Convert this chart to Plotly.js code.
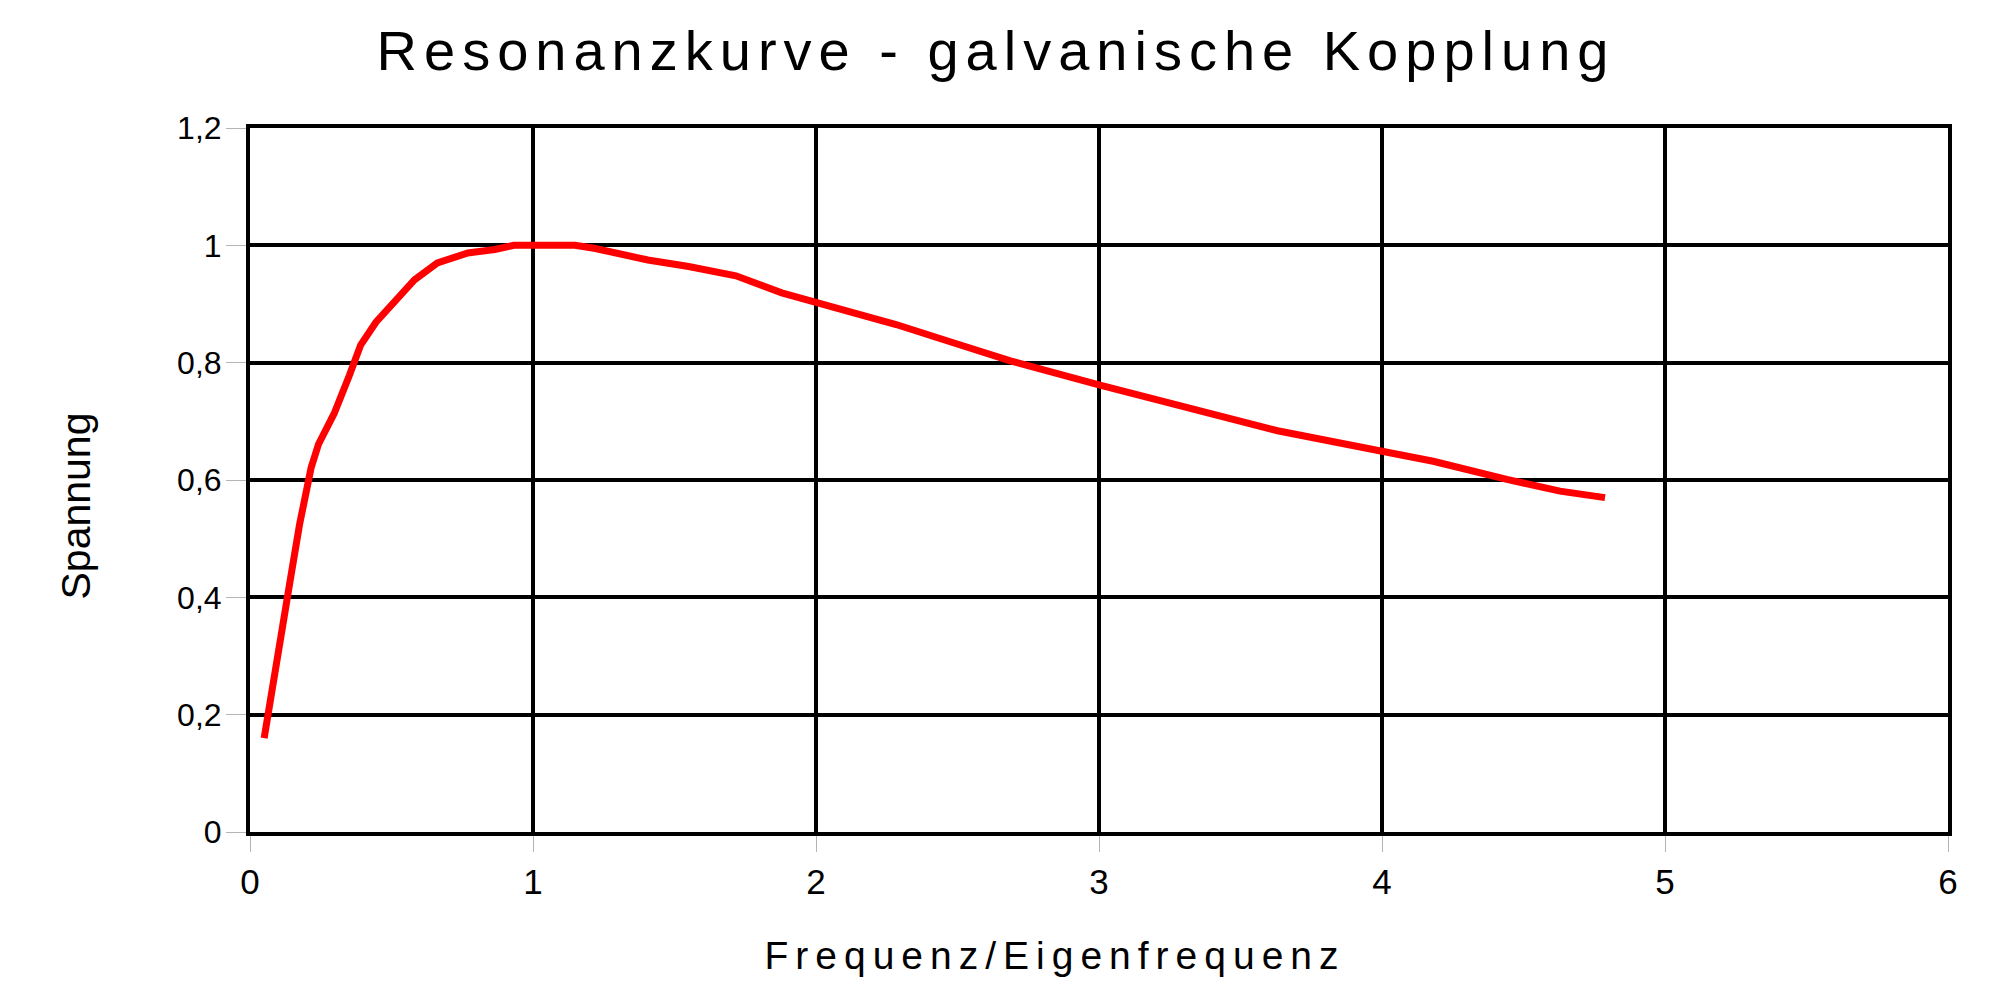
<!DOCTYPE html>
<html>
<head>
<meta charset="utf-8">
<script src="https://cdn.plot.ly/plotly-3.0.1.min.js"></script>
<style>
  html, body { margin: 0; padding: 0; background: #fff; }
  #chart { width: 2000px; height: 1000px; }
  .gtitle { letter-spacing: 7px; }
  .xtitle { letter-spacing: 7px; translate: -44px 0px; }
  .ytitle { translate: -7px 26px; }
  .ytick text { translate: 2px 0px; }
</style>
</head>
<body>
<div id="chart"></div>
<script>
// Frequenz/Eigenfrequenz (x) and Spannung (y)
const frequencyRatio = [0.05, 0.094, 0.141, 0.175, 0.216, 0.242, 0.297, 0.351, 0.391, 0.445,
  0.513, 0.581, 0.662, 0.770, 0.865, 0.932, 1.0, 1.148, 1.216, 1.406,
  1.55, 1.717, 1.879, 2.0, 2.283, 2.485, 2.687, 3.0, 3.294, 3.631, 4.0,
  4.181, 4.441, 4.629, 4.788];
const voltage = [0.16, 0.295, 0.426, 0.524, 0.621, 0.661, 0.713, 0.778, 0.830, 0.869,
  0.905, 0.941, 0.970, 0.987, 0.993, 1.0, 1.0, 1.0, 0.995, 0.975,
  0.964, 0.948, 0.919, 0.903, 0.865, 0.834, 0.803, 0.762, 0.726, 0.684, 0.649,
  0.632, 0.601, 0.581, 0.570];

const chartTitle = "Resonanzkurve - galvanische Kopplung";
const xTitle = "Frequenz/Eigenfrequenz";
const yTitle = "Spannung";
const xTickValues = [0, 1, 2, 3, 4, 5, 6];
const yTickValues = [0, 0.2, 0.4, 0.6, 0.8, 1, 1.2];

const fontMain = "Liberation Sans, Arial, sans-serif";
const fontNarrow = "Liberation Sans Narrow, Arial Narrow, Liberation Sans, Arial, sans-serif";

const trace = {
  x: frequencyRatio,
  y: voltage,
  type: "scatter",
  mode: "lines",
  line: { color: "#ff0000", width: 7 },
  hoverinfo: "x+y",
  showlegend: false
};

const layout = {
  width: 2000,
  height: 1000,
  paper_bgcolor: "#ffffff",
  plot_bgcolor: "#ffffff",
  separators: ",.",
  margin: { l: 250, r: 52, t: 128, b: 168, pad: 0 },
  font: { family: fontMain, color: "#000000", size: 35 },
  title: {
    text: chartTitle,
    font: { family: fontMain, size: 56, color: "#000000" },
    xref: "container", x: 0.498, xanchor: "center",
    yref: "container", y: 0.95, yanchor: "middle"
  },
  xaxis: {
    range: [0, 6],
    tickmode: "array",
    tickvals: xTickValues,
    showgrid: true, gridcolor: "#000000", gridwidth: 4,
    showline: true, linecolor: "#000000", linewidth: 4, mirror: true,
    zeroline: true, zerolinecolor: "#000000", zerolinewidth: 7,
    ticks: "outside", ticklen: 16, tickwidth: 1, tickcolor: "#b4b4b4",
    tickfont: { family: fontMain, size: 35, color: "#000000" },
    title: { text: xTitle, font: { family: fontNarrow, size: 39, color: "#000000" }, standoff: 43 },
    automargin: false,
    fixedrange: true
  },
  yaxis: {
    range: [0, 1.2],
    tickmode: "array",
    tickvals: yTickValues,
    showgrid: true, gridcolor: "#000000", gridwidth: 4,
    showline: true, linecolor: "#000000", linewidth: 4, mirror: true,
    zeroline: false,
    ticks: "outside", ticklen: 20, tickwidth: 1, tickcolor: "#b4b4b4",
    tickfont: { family: fontMain, size: 32, color: "#000000" },
    title: { text: yTitle, font: { family: fontMain, size: 41, color: "#000000" }, standoff: 68 },
    automargin: false,
    fixedrange: true
  }
};

Plotly.newPlot("chart", [trace], layout, { displayModeBar: false, staticPlot: true });
</script>
</body>
</html>
